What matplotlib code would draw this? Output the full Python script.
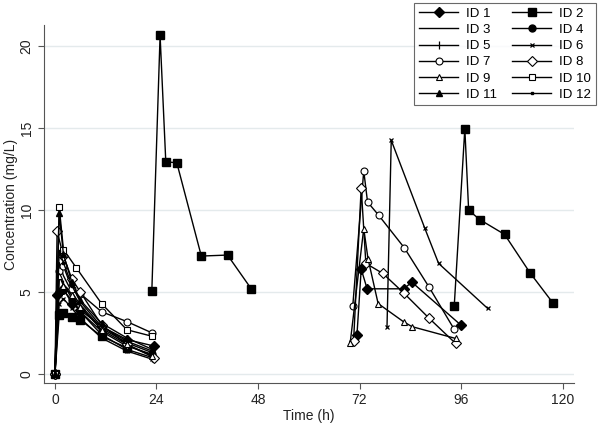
import numpy as np
import matplotlib
matplotlib.use("Agg")
import matplotlib.pyplot as plt

plt.rcParams['font.family'] = ['Liberation Sans', 'DejaVu Sans']

nan = np.nan
# Time (h) and concentration (mg/L) per subject; NaN separates dosing occasions
t1 = [0, 0.5, 2, 4, 6, 11, 17, 23.5, nan, 71.4, 72.4, 73.8, 82.4, 84.4, 95.9]
c1 = [0, 4.8, 5.2, 4.3, 3.9, 2.9, 2.1, 1.7, nan, 2.4, 6.4, 5.2, 5.2, 5.6, 3.0]
t2 = [0, 1, 2, 4, 6, 11, 17, nan, 22.9, 24.85, 26.2, 28.8, 34.6, 40.8, 46.4,
      nan, 94.4, 96.9, 97.8, 100.4, 106.3, 112.3, 117.8]
c2 = [0, 3.6, 3.7, 3.5, 3.3, 2.3, 1.6, nan, 5.08, 20.67, 12.95, 12.9, 7.2, 7.26, 5.2,
      nan, 4.17, 14.98, 10.0, 9.43, 8.52, 6.18, 4.31]
t3 = [0, 1, 2, 4, 6, 11, 17, 23]
c3 = [0, 6.8, 6.0, 5.0, 4.2, 2.8, 1.9, 1.3]
t4 = [0, 1, 2, 4, 6, 11, 17, 23]
c4 = [0, 5.0, 5.1, 4.5, 3.8, 2.6, 1.7, 1.2]
t5 = [0, 1, 2, 4, 6, 11, 17, 23]
c5 = [0, 6.2, 5.5, 4.6, 3.8, 2.4, 1.5, 1.0]
t6 = [0, 1, 2, 4, 6, 11, 17, 23, nan, 78.5, 79.5, 87.4, 90.7, 102.3]
c6 = [0, 4.3, 4.6, 4.0, 3.4, 2.2, 1.4, 0.9, nan, 2.88, 14.27, 8.92, 6.75, 4.0]
t7 = [0, 1, 2, 4, 6, 11, 17, 23, nan, 70.4, 73.0, 73.9, 76.5, 82.6, 88.5, 94.4]
c7 = [0, 6.3, 6.6, 5.2, 4.9, 3.8, 3.2, 2.5, nan, 4.14, 12.4, 10.5, 9.7, 7.7, 5.28, 2.72]
t8 = [0, 0.5, 2, 4, 6, 11, 17, 23.5, nan, 70.6, 72.4, 73.5, 77.5, 82.4, 88.5, 94.7]
c8 = [0, 8.7, 7.2, 5.8, 5.0, 3.0, 1.8, 1.0, nan, 2.03, 11.38, 6.75, 6.14, 4.96, 3.39, 1.87]
t9 = [0, 1, 2, 4, 6, 11, 17, 23, nan, 69.8, 73.0, 74.0, 76.4, 82.4, 84.4, 94.7]
c9 = [0, 6.0, 5.4, 4.8, 4.1, 2.7, 1.8, 1.1, nan, 1.91, 8.88, 7.05, 4.3, 3.19, 2.89, 2.17]
t10 = [0, 1, 2, 5, 11, 17, 23]
c10 = [0, 10.2, 7.6, 6.5, 4.3, 2.7, 2.3]
t11 = [0, 1, 2, 4, 6, 11, 17, 23]
c11 = [0, 9.8, 7.3, 5.6, 4.5, 3.1, 2.2, 1.5]
t12 = [0, 1, 2, 4, 6, 11, 17, 23]
c12 = [0, 7.5, 6.8, 5.4, 4.4, 2.9, 2.0, 1.4]

labels = [f"ID {i}" for i in range(1, 13)]
xticks = [0, 24, 48, 72, 96, 120]
yticks = [0, 5, 10, 15, 20]

times = [t1, t2, t3, t4, t5, t6, t7, t8, t9, t10, t11, t12]
concs = [c1, c2, c3, c4, c5, c6, c7, c8, c9, c10, c11, c12]
styles = [
    dict(marker='D', ms=5, mfc='black'),
    dict(marker='s', ms=5.5, mfc='black'),
    dict(marker='None'),
    dict(marker='o', ms=5, mfc='black'),
    dict(marker='|', ms=6, mew=0.9),
    dict(marker='x', ms=3.5, mew=0.9),
    dict(marker='o', ms=5, mfc='white', mew=0.8),
    dict(marker='D', ms=5, mfc='white', mew=0.8),
    dict(marker='^', ms=5, mfc='white', mew=0.8),
    dict(marker='s', ms=5, mfc='white', mew=0.8),
    dict(marker='^', ms=5, mfc='black'),
    dict(marker='s', ms=2.0, mfc='black'),
]

fig = plt.figure(figsize=(6.0, 4.26), dpi=100)
ax = fig.add_axes([0.0733, 0.101, 0.884, 0.840])

handles = []
for t, c, st in zip(times, concs, styles):
    h, = ax.plot(t, c, color='black', lw=1.0, mec='black', **st)
    handles.append(h)

ax.set_xlim(-2.6, 122.8)
ax.set_ylim(-0.55, 21.3)
ax.set_xticks(xticks)
ax.set_yticks(yticks)
ax.set_yticklabels([str(v) for v in yticks], rotation=90, va='center')
ax.tick_params(axis='both', labelsize=10, color='#555555', length=4, width=0.8,
               labelcolor='#222222')
ax.grid(axis='y', color='#e4eaec', lw=1.0)
ax.set_axisbelow(True)
for s in ['top', 'right']:
    ax.spines[s].set_visible(False)
for s in ['left', 'bottom']:
    ax.spines[s].set_color('#555555')
    ax.spines[s].set_linewidth(0.8)
ax.set_xlabel('Time (h)', fontsize=10, labelpad=1, color='#222222')
ax.set_ylabel('Concentration (mg/L)', fontsize=10, labelpad=1, color='#222222')

order = [0, 2, 4, 6, 8, 10, 1, 3, 5, 7, 9, 11]
leg = fig.legend([handles[i] for i in order], [labels[i] for i in order],
                 ncol=2, loc='upper right', bbox_to_anchor=(0.993, 0.993),
                 fontsize=9.5, frameon=True, fancybox=False, handlelength=3.0,
                 labelspacing=0.3, columnspacing=1.1, handletextpad=0.6,
                 borderpad=0.35, borderaxespad=0.0)
leg.get_frame().set_edgecolor('#444444')
leg.get_frame().set_linewidth(0.8)

fig.savefig('out.png', dpi=100)
